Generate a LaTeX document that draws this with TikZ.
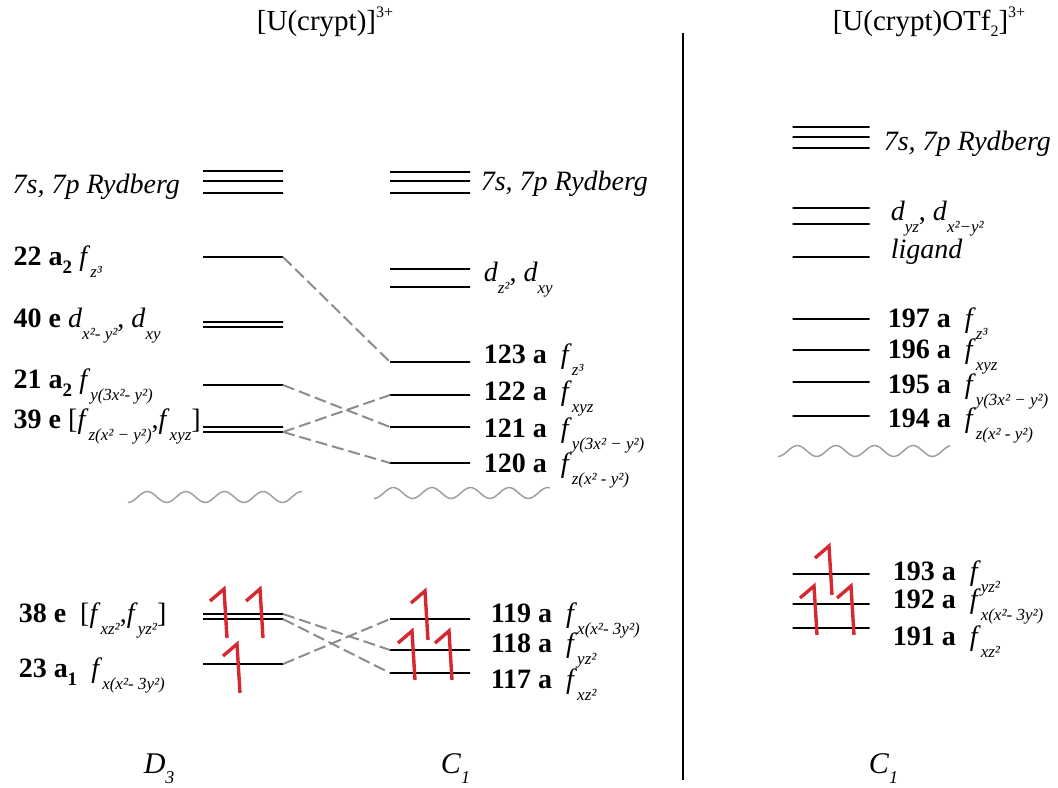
\documentclass[tikz,border=0pt]{standalone}
\usepackage{fontspec}
\setmainfont{Liberation Serif}
\usetikzlibrary{positioning}
\definecolor{spinred}{RGB}{214,40,48}
\definecolor{linkgray}{RGB}{140,140,140}
\newcommand\orb[2]{\textit{#1}\raisebox{-6pt}{\fontsize{8.5}{9}\selectfont\itshape #2}}
\newcommand\bsub[1]{\raisebox{-4pt}{\fontsize{9.5}{10}\selectfont\bfseries #1}}
\tikzset{every picture/.style={line width=0.75pt}}
\tikzset{
  level/.style={draw, line width=1.35pt, minimum width=40pt, minimum height=0pt, inner sep=0pt, outer sep=0pt},
  rlevel/.style={level, minimum width=38.5pt},
  lab/.style={anchor=base west, inner sep=0pt, font=\fontsize{14}{17}\selectfont},
  link/.style={draw=linkgray, line width=1pt, dash pattern=on 6pt off 2.5pt},
  wave/.style={draw=gray!75, line width=0.75pt},
  electron/.pic={\draw[spinred, line width=1.7pt] (0,0) -- (-3,-49) -- (-17,-37);}
}

\begin{document}
\begin{tikzpicture}[x=0.5pt, y=-0.5pt]
    \useasboundingbox (0,0) rectangle (1058,787);
    % titles
    \node[anchor=base, font=\fontsize{14.5}{17}\selectfont] (tcrypt) at (325,30) {[U(crypt)]\raisebox{6pt}{\fontsize{8}{8}\selectfont 3+}};
    \node[anchor=base, font=\fontsize{14.5}{17}\selectfont] (totf) at (929,30) {[U(crypt)OTf\raisebox{-3pt}{\fontsize{8}{8}\selectfont 2}]\raisebox{6pt}{\fontsize{8}{8}\selectfont 3+}};
    \draw[line width=1pt] (683,33) -- (683,780);

    % D3 levels
    \node[level] (dryd1) at (243,171) {};
    \node[level] (dryd2) at (243,181) {};
    \node[level] (dryd3) at (243,193) {};
    \node[level] (d22) at (243,257) {};
    \node[level] (d40a) at (243,322) {};
    \node[level] (d40b) at (243,327) {};
    \node[level] (d21) at (243,385) {};
    \node[level] (d39a) at (243,427) {};
    \node[level] (d39b) at (243,432) {};
    \node[level] (d38a) at (243,614) {};
    \node[level] (d38b) at (243,619) {};
    \node[level] (d23) at (243,664) {};
    \node[lab] (lryd) at (12,193) {\textit{7s, 7p Rydberg}};
    \node[lab] (l22) at (13,265) {\textbf{22 a\bsub{2}} \orb{f}{z³}};
    \node[lab] (l40) at (13,327) {\textbf{40 e} \orb{d}{x²- y²}, \orb{d}{xy}};
    \node[lab] (l21) at (13,388) {\textbf{21 a\bsub{2}} \orb{f}{y(3x²- y²)}};
    \node[lab] (l39) at (13,428) {\textbf{39 e} [\orb{f}{z(x² − y²)},\orb{f}{xyz}]};
    \node[lab] (l38) at (18,622) {\textbf{38 e}\enspace[\orb{f}{xz²},\orb{f}{yz²}]};
    \node[lab] (l23) at (18,677) {\textbf{23 a\bsub{1}}\enspace\orb{f}{x(x²- 3y²)}};
    \draw[wave] plot[smooth, domain=0:174, samples=60] ({128+\x}, {497+5.5*cos(\x/38.6*360)});

    % C1 levels, [U(crypt)]3+
    \node[level] (cryd1) at (430,172) {};
    \node[level] (cryd2) at (430,181) {};
    \node[level] (cryd3) at (430,193) {};
    \node[level] (cdz) at (430,269) {};
    \node[level] (cdxy) at (430,287) {};
    \node[level] (c123) at (430,362) {};
    \node[level] (c122) at (430,395) {};
    \node[level] (c121) at (430,427) {};
    \node[level] (c120) at (430,463) {};
    \node[level] (c119) at (430,619) {};
    \node[level] (c118) at (430,650) {};
    \node[level] (c117) at (430,673) {};
    \node[lab] (mryd) at (480,190) {\textit{7s, 7p Rydberg}};
    \node[lab] (md) at (483,281) {\orb{d}{z²}, \orb{d}{xy}};
    \node[lab] (m123) at (483,363) {\textbf{123 a}\enspace\orb{f}{z³}};
    \node[lab] (m122) at (483,400) {\textbf{122 a}\enspace\orb{f}{xyz}};
    \node[lab] (m121) at (483,437) {\textbf{121 a}\enspace\orb{f}{y(3x² − y²)}};
    \node[lab] (m120) at (483,472) {\textbf{120 a}\enspace\orb{f}{z(x² - y²)}};
    \node[lab] (m119) at (490,622) {\textbf{119 a}\enspace\orb{f}{x(x²- 3y²)}};
    \node[lab] (m118) at (490,652) {\textbf{118 a}\enspace\orb{f}{yz²}};
    \node[lab] (m117) at (490,688) {\textbf{117 a}\enspace\orb{f}{xz²}};
    \draw[wave] plot[smooth, domain=0:176, samples=60] ({374+\x}, {493+5.5*cos(\x/38.6*360)});

    % correlation
    \draw[link] (d22.east) -- (c123.west);
    \draw[link] (d21.east) -- (c121.west);
    \draw[link] (d39b.east) -- (c122.west);
    \draw[link] (d39b.east) -- (c120.west);
    \draw[link] (d38a.east) -- (c118.west);
    \draw[link] (d38b.east) -- (c117.west);
    \draw[link] (d23.east) -- (c119.west);

    % C1 levels, [U(crypt)OTf2]3+
    \node[rlevel] (rryd1) at (831,127) {};
    \node[rlevel] (rryd2) at (831,137) {};
    \node[rlevel] (rryd3) at (831,148) {};
    \node[rlevel] (rdyz) at (831,208) {};
    \node[rlevel] (rdx) at (831,224) {};
    \node[rlevel] (rlig) at (831,257) {};
    \node[rlevel] (r197) at (831,319) {};
    \node[rlevel] (r196) at (831,350) {};
    \node[rlevel] (r195) at (831,382) {};
    \node[rlevel] (r194) at (831,416) {};
    \node[rlevel] (r193) at (831,574) {};
    \node[rlevel] (r192) at (831,604) {};
    \node[rlevel] (r191) at (831,628) {};
    \node[lab] (rtryd) at (883,150) {\textit{7s, 7p Rydberg}};
    \node[lab] (rtd) at (890,220) {\orb{d}{yz}, \orb{d}{x²−y²}};
    \node[lab] (rtlig) at (890,258) {\textit{ligand}};
    \node[lab] (rt197) at (887,327) {\textbf{197 a}\enspace\orb{f}{z³}};
    \node[lab] (rt196) at (887,358) {\textbf{196 a}\enspace\orb{f}{xyz}};
    \node[lab] (rt195) at (887,393) {\textbf{195 a}\enspace\orb{f}{y(3x² − y²)}};
    \node[lab] (rt194) at (887,427) {\textbf{194 a}\enspace\orb{f}{z(x² - y²)}};
    \node[lab] (rt193) at (892,580) {\textbf{193 a}\enspace\orb{f}{yz²}};
    \node[lab] (rt192) at (892,608) {\textbf{192 a}\enspace\orb{f}{x(x²- 3y²)}};
    \node[lab] (rt191) at (892,645) {\textbf{191 a}\enspace\orb{f}{xz²}};
    \draw[wave] plot[smooth, domain=0:172, samples=60] ({778+\x}, {451+5.5*cos(\x/38.6*360)});

    % electrons
    \pic at (227,638) {electron};
    \pic at (263,638) {electron};
    \pic at (240,693) {electron};
    \pic at (428,640) {electron};
    \pic at (415,680) {electron};
    \pic at (452,680) {electron};
    \pic at (832,595) {electron};
    \pic at (817,635) {electron};
    \pic at (854,635) {electron};

    % point groups
    \node[lab, font=\fontsize{15}{17}\selectfont] (pgd) at (143,773) {\textit{D}\raisebox{-5pt}{\fontsize{9}{9}\selectfont\itshape 3}};
    \node[lab, font=\fontsize{15}{17}\selectfont] (pgc) at (440,773) {\textit{C}\raisebox{-5pt}{\fontsize{9}{9}\selectfont\itshape 1}};
    \node[lab, font=\fontsize{15}{17}\selectfont] (pgr) at (868,773) {\textit{C}\raisebox{-5pt}{\fontsize{9}{9}\selectfont\itshape 1}};
\end{tikzpicture}
\end{document}
